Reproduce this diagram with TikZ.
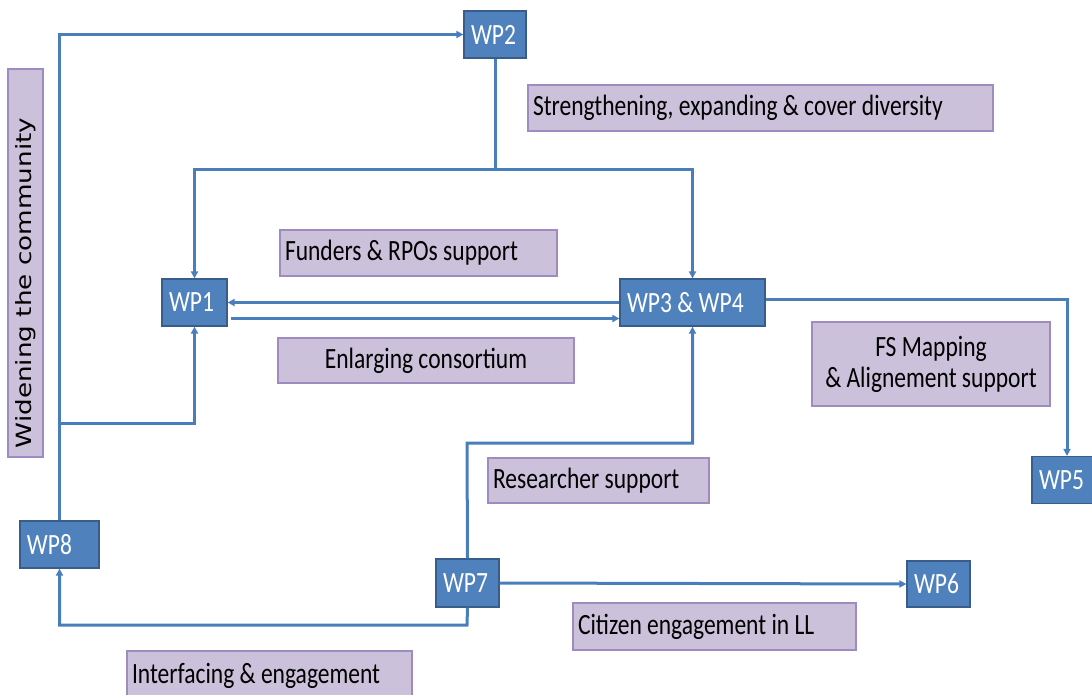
\documentclass[tikz,border=0pt]{standalone}
\usepackage{fontspec}
\usetikzlibrary{arrows.meta}
\newfontfamily\calib{Carlito}[FakeStretch=0.8]
\newfontfamily\widefont{DejaVu Sans}[FakeStretch=1.25]
\definecolor{wpblue}{HTML}{4F81BD}
\definecolor{wpedge}{HTML}{385D8A}
\definecolor{lilac}{HTML}{CCC1DA}
\definecolor{lilacedge}{HTML}{9E8BBF}
\definecolor{linkblue}{HTML}{4A7EBB}
\begin{document}
\begin{tikzpicture}[x=1pt, y=-1pt,
    wpbox/.style={draw=wpedge, fill=wpblue, text=white, line width=1.2pt,
      minimum height=47pt, inner xsep=7pt, inner ysep=0pt, text width=#1,
      align=flush left, font=\calib\fontsize{29.4}{31}\selectfont},
    notebox/.style={draw=lilacedge, fill=lilac, line width=1.2pt,
      inner xsep=5pt, inner ysep=0pt, text width=#1, align=flush left,
      font=\calib\fontsize{29.4}{31}\selectfont},
    link/.style={draw=linkblue, line width=3pt},
    arr/.style={link, -{Triangle[length=7pt,width=7pt]}}]
    \useasboundingbox (0,0) rectangle (1092,694);
    % work packages
    \node[wpbox=48pt] (wp2) at (495,34.5){WP2};
    \node[wpbox=51pt] (wp1) at (194.5,302.5){WP1};
    \node[wpbox=131pt] (wp34) at (692.5,302.5){WP3 \& WP4};
    \node[wpbox=56pt] (wp5) at (1067,480){WP5};
    \node[wpbox=49pt, minimum height=46pt] (wp6) at (938.5,584){WP6};
    \node[wpbox=49pt, minimum height=48pt] (wp7) at (467.5,583){WP7};
    \node[wpbox=65pt] (wp8) at (59.5,544.5){WP8};
    % labels
    \node[notebox=455pt, minimum height=46pt] (streng) at (760.5,108){Strengthening, expanding \& cover diversity};
    \node[notebox=267pt, minimum height=46pt] (funders) at (418.5,253){Funders \& RPOs support};
    \node[notebox=286pt, minimum height=45pt, align=flush center] (enlarg) at (426,360.5){Enlarging consortium};
    \node[notebox=228pt, minimum height=84pt, align=flush center] (fsmap) at (931,364){FS Mapping\\\& Alignement support};
    \node[notebox=211pt, minimum height=45pt] (research) at (598.5,480.5){Researcher support};
    \node[notebox=273pt, minimum height=47pt] (citizen) at (714.5,626.5){Citizen engagement in LL};
    \node[notebox=275pt, minimum height=49pt] (interf) at (269.5,675.5){Interfacing \& engagement};
    \node[draw=lilacedge, fill=lilac, line width=1.2pt, minimum width=388pt, minimum height=35pt,
      rotate=90, font=\widefont\fontsize{21}{24}\selectfont] (widen) at (25.5,263){Widening the community\hspace*{40pt}};
    % connectors
    \coordinate (j2) at (495,169);
    \coordinate (j8) at (59,423);
    \coordinate (j7) at (467,443);
    \coordinate (j7b) at (467,625);
    \draw[link] (wp2.south) -- (j2);
    \draw[arr] (j2) -| (wp1.north);
    \draw[arr] (j2) -| (wp34.north);
    \draw[arr] (wp8.north) -- (wp8.north |- wp2.west) -- (wp2.west);
    \draw[arr] (j8) -| (wp1.south);
    \draw[arr] (wp34.west) -- (wp1.east);
    \draw[arr] ([xshift=3pt,yshift=-16pt]wp1.east) -- ([yshift=-16pt]wp34.west);
    \draw[arr] ([yshift=3pt]wp34.east) -| (wp5.north);
    \draw[arr] (wp7.north) -- (j7) -| (wp34.south);
    \draw[arr] (wp7.south) -- (j7b) -| (wp8.south);
    \draw[arr] (wp7.east) -- (wp6.west);
  \end{tikzpicture}
\end{document}
